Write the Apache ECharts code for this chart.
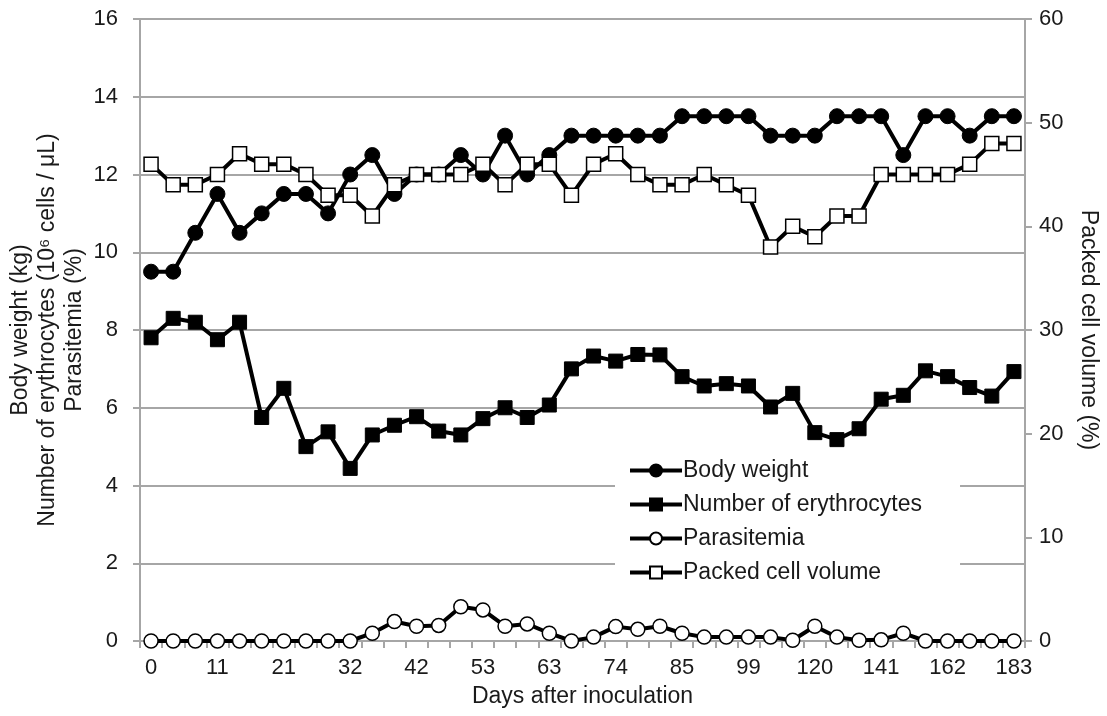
<!DOCTYPE html>
<html>
<head>
<meta charset="utf-8">
<script src="https://cdn.jsdelivr.net/npm/echarts@6/dist/echarts.min.js"></script>
<style>
html,body{margin:0;padding:0;background:#fff;}
#chart{width:1107px;height:716px;}
</style>
</head>
<body>
<div id="chart"></div>
<script>
// Days after inoculation (only every 3rd is labelled)
const days = [0,4,7,11,14,18,21,25,28,32,35,39,42,46,49,53,56,60,63,67,70,74,77,81,85,90,95,99,106,113,120,127,134,141,148,155,162,169,176,183];
// Body weight (kg)
const bodyWeight = [9.5,9.5,10.5,11.5,10.5,11,11.5,11.5,11,12,12.5,11.5,12,12,12.5,12,13,12,12.5,13,13,13,13,13,13.5,13.5,13.5,13.5,13,13,13,13.5,13.5,13.5,12.5,13.5,13.5,13,13.5,13.5];
// Number of erythrocytes (10^6 cells / uL)
const erythrocytes = [7.8,8.3,8.2,7.75,8.2,5.75,6.5,5.0,5.38,4.44,5.3,5.55,5.77,5.4,5.3,5.72,6.0,5.75,6.07,7.0,7.33,7.2,7.37,7.36,6.8,6.56,6.62,6.56,6.02,6.37,5.36,5.18,5.46,6.22,6.32,6.95,6.8,6.52,6.3,6.93];
// Parasitemia (%)
const parasitemia = [0,0,0,0,0,0,0,0,0,0,0.2,0.5,0.38,0.4,0.88,0.8,0.38,0.44,0.2,0,0.1,0.37,0.3,0.38,0.2,0.1,0.1,0.1,0.1,0.02,0.38,0.1,0.02,0.03,0.2,0,0,0,0,0];
// Packed cell volume (%)
const pcv = [46,44,44,45,47,46,46,45,43,43,41,44,45,45,45,46,44,46,46,43,46,47,45,44,44,45,44,43,38,40,39,41,41,45,45,45,45,46,48,48];

const seriesNames = ['Body weight','Number of erythrocytes','Parasitemia','Packed cell volume'];
const leftTicks = [0,2,4,6,8,10,12,14,16];
const rightTicks = [0,10,20,30,40,50,60];

const FONT = '"Liberation Sans", Arial, Helvetica, sans-serif';
const GRAY = '#a6a6a6';
const TXT = '#1a1a1a';

const chart = echarts.init(document.getElementById('chart'), null, {renderer:'canvas'});

function mkSeries(name, data, symbol, filled, yIdx, size){
  return {
    name: name,
    type: 'line',
    yAxisIndex: yIdx,
    data: data,
    symbol: symbol,
    symbolSize: size,
    showAllSymbol: true,
    lineStyle: {color:'#000', width:4},
    itemStyle: filled ? {color:'#000', borderColor:'#000', borderWidth:1} : {color:'#fff', borderColor:'#000', borderWidth:1.5},
    emphasis: {disabled:true},
    animation: false,
    z: 3
  };
}

chart.setOption({
  animation: false,
  backgroundColor: '#fff',
  textStyle: {fontFamily: FONT, color: TXT},
  grid: {left:140, right:82, top:19, bottom:75, containLabel:false, outerBoundsMode:'none'},
  legend: {
    orient: 'vertical',
    left: 615,
    top: 453,
    backgroundColor: '#fff',
    padding: [6, 38, 6, 13],
    itemWidth: 52,
    itemHeight: 15,
    itemGap: 11,
    data: seriesNames,
    lineStyle: {width: 4, color: '#000'},
    textStyle: {fontFamily: FONT, fontSize: 23, color: TXT, padding:[0,0,0,-4]},
    selectedMode: false
  },
  xAxis: {
    type: 'category',
    data: days,
    boundaryGap: true,
    name: 'Days after inoculation',
    nameLocation: 'middle',
    nameGap: 44,
    nameMoveOverlap: false,
    nameTextStyle: {fontFamily: FONT, fontSize: 23, color: TXT},
    axisLine: {lineStyle: {color: GRAY, width: 2}},
    axisTick: {show:true, interval:0, length:7, lineStyle:{color:GRAY, width:2}},
    axisLabel: {interval: 2, fontSize: 22, color: TXT, fontFamily: FONT, margin: 16},
    splitLine: {show:false}
  },
  yAxis: [
    {
      type: 'value',
      min: leftTicks[0], max: leftTicks[leftTicks.length-1], interval: 2,
      position: 'left',
      name: 'Body weight (kg)\nNumber of erythrocytes (10⁶ cells / μL)\nParasitemia (%)',
      nameLocation: 'middle',
      nameGap: 52,
      nameRotate: 90,
      nameMoveOverlap: false,
      nameTextStyle: {fontFamily: FONT, fontSize: 23, color: TXT, lineHeight: 27, align:'center'},
      axisLine: {show:true, lineStyle:{color:GRAY, width:2}},
      axisTick: {show:true, length:7, lineStyle:{color:GRAY, width:2}},
      axisLabel: {fontSize: 22, color: TXT, fontFamily: FONT, margin: 22},
      splitLine: {show:true, lineStyle:{color:GRAY, width:2}}
    },
    {
      type: 'value',
      min: rightTicks[0], max: rightTicks[rightTicks.length-1], interval: 10,
      position: 'right',
      name: 'Packed cell volume (%)',
      nameLocation: 'middle',
      nameGap: 52,
      nameRotate: -90,
      nameMoveOverlap: false,
      nameTextStyle: {fontFamily: FONT, fontSize: 23, color: TXT},
      axisLine: {show:true, lineStyle:{color:GRAY, width:2}},
      axisTick: {show:true, length:7, lineStyle:{color:GRAY, width:2}},
      axisLabel: {fontSize: 22, color: TXT, fontFamily: FONT, margin: 14},
      splitLine: {show:false}
    }
  ],
  series: [
    mkSeries(seriesNames[0], bodyWeight, 'circle', true, 0, 15),
    mkSeries(seriesNames[1], erythrocytes, 'rect', true, 0, 14),
    mkSeries(seriesNames[2], parasitemia, 'circle', false, 0, 14),
    mkSeries(seriesNames[3], pcv, 'rect', false, 1, 14)
  ]
});
</script>
</body>
</html>
